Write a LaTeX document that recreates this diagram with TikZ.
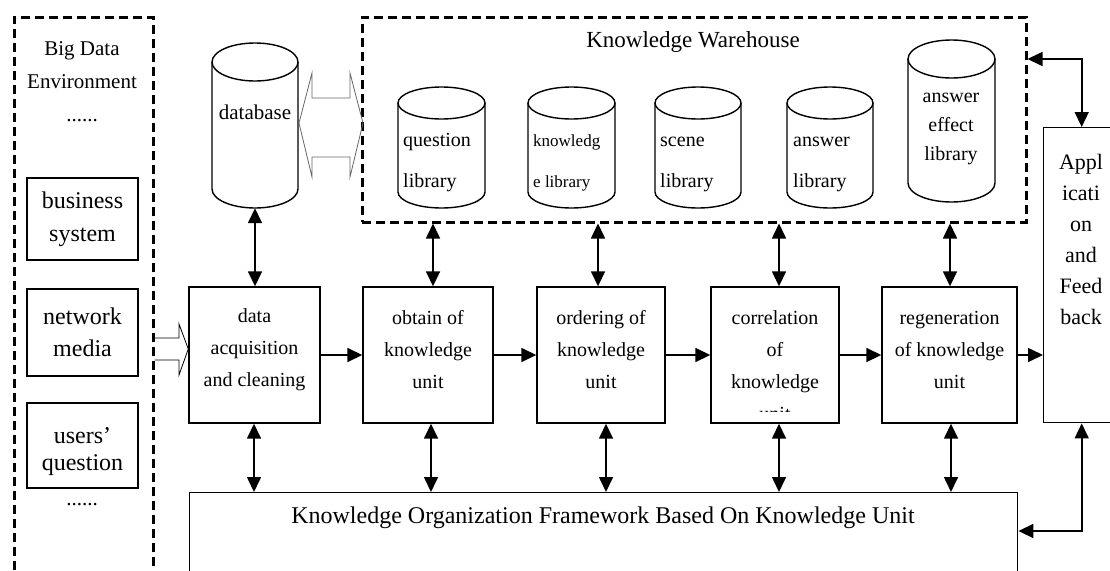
\documentclass[tikz,border=0pt]{standalone}
\usepackage{fontspec}
\setmainfont{Liberation Serif}
\usetikzlibrary{arrows.meta}
\newcommand{\fs}[2]{\fontsize{#1}{#2}\selectfont}
\newcommand{\cylshape}[5]{% cx, rx, ytop, ybot, ry
  \draw[cyl] (#1,#3) ellipse[x radius=#2, y radius=#5];
  \draw[cyl] (#1-#2,#3) -- (#1-#2,#4) arc[start angle=180,end angle=0,x radius=#2,y radius=#5] -- (#1+#2,#3);}
\begin{document}
\begin{tikzpicture}[x=1pt,y=-1pt,
  box/.style={draw, line width=1.4pt, inner sep=0pt},
  dbox/.style={draw, line width=2.5pt, dash pattern=on 9pt off 5pt, inner sep=0pt},
  tip/.tip={Triangle[length=15pt,width=14pt]},
  arr/.style={line width=1.6pt, -tip},
  darr/.style={line width=1.6pt, tip-tip},
  cyl/.style={line width=1.4pt},
  txt/.style={inner sep=0pt, align=center},
  ltxt/.style={inner sep=0pt, anchor=west},
  hollow/.style={line width=0.8pt, line join=miter},
]
\useasboundingbox (0,0) rectangle (1110,570);
\clip (0,0) rectangle (1110,570);

% containers
\node[dbox, anchor=north west, minimum width=139, minimum height=620] (env) at (13,16) {};
\node[dbox, anchor=north west, minimum width=664, minimum height=205] (wh) at (361,16) {};

% left environment
\node[txt, anchor=north, font=\fs{21}{33}] (bde) at (82,41) {Big Data\\Environment\\......};
\node[box, minimum width=111, minimum height=82] (bs) at (82.5,219) {};
\node[txt, font=\fs{24}{33}] at (bs.center) {business\\system};
\node[box, minimum width=111, minimum height=87] (nm) at (82.5,332.5) {};
\node[txt, font=\fs{24}{32}] at (nm.center) {network\\media};
\node[box, minimum width=111, minimum height=85] (uq) at (82.5,445.5) {};
\node[txt, font=\fs{24}{27}] at (82.5,452) {users’\\question};
\node[txt, font=\fs{21}{25}] (dots2) at (82,505) {......};

% database
\cylshape{255}{43}{62}{189}{19}
\node[minimum width=86, minimum height=165, inner sep=0pt] (db) at (255,125.5) {};
\node[txt, font=\fs{21}{25}] at (255,112) {database};

% warehouse
\node[txt, font=\fs{23}{28}] (whtitle) at (693,42) {Knowledge Warehouse};
\cylshape{441.5}{43.5}{103}{192}{16}
\cylshape{571.5}{43.5}{103}{192}{16}
\cylshape{698}{43}{103}{192}{16}
\cylshape{830}{43}{103}{192}{16}
\cylshape{951.5}{43.5}{59}{183}{19}
\node[ltxt, font=\fs{20}{25}] (q1) at (403,142) {question};
\node[ltxt, font=\fs{20}{25}] (q2) at (403,183) {library};
\node[ltxt, font=\fs{17}{22}] (k1) at (533,142) {knowledg};
\node[ltxt, font=\fs{17}{22}] (k2) at (533,183) {e library};
\node[ltxt, font=\fs{20}{25}] (s1) at (660,142) {scene};
\node[ltxt, font=\fs{20}{25}] (s2) at (660,183) {library};
\node[ltxt, font=\fs{20}{25}] (a1) at (793,142) {answer};
\node[ltxt, font=\fs{20}{25}] (a2) at (793,183) {library};
\node[txt, font=\fs{20}{29}] (ae) at (951,129) {answer\\effect\\library};

% double hollow arrow database <-> warehouse
\draw[hollow, draw=black!60] (299,123) -- (312,73) -- (312,98) -- (350,98) -- (350,73) -- (363,123)
  -- (350,177) -- (350,157) -- (312,157) -- (312,177) -- cycle;

% process boxes
\node[box, minimum width=131, minimum height=136] (da) at (254.5,355) {};
\node[box, minimum width=130, minimum height=136] (ob) at (428,355) {};
\node[box, minimum width=128, minimum height=136] (od) at (601,355) {};
\node[box, minimum width=128, minimum height=136] (co) at (775,355) {};
\node[box, minimum width=135, minimum height=136] (re) at (949.5,355) {};
\node[txt, font=\fs{20}{32}] at (254.5,350) {data\\acquisition\\and cleaning};
\node[txt, font=\fs{20}{32}] at (428,350) {obtain of\\knowledge\\unit};
\node[txt, font=\fs{20}{32}] at (601,350) {ordering of\\knowledge\\unit};
\begin{scope}
  \clip (712,288) rectangle (838,411);
  \node[txt, font=\fs{20}{32}] at (775,366) {correlation\\of\\knowledge\\unit};
\end{scope}
\node[txt, font=\fs{20}{32}] at (949.5,350) {regeneration\\of knowledge\\unit};

% application
\node[box, anchor=north west, minimum width=76, minimum height=295] (app) at (1043,127) {};
\node[txt, font=\fs{22}{31}] at (1081,239) {Appl\\icati\\on\\and\\Feed\\back};

% framework
\node[box, anchor=north west, minimum width=828, minimum height=120] (kof) at (189,492) {};
\node[txt, font=\fs{24}{28}] at (603,518) {Knowledge Organization Framework Based On Knowledge Unit};

% hollow arrow env -> data acquisition
\draw[hollow] (env.east |- 0,338) -- (179,338) -- (179,324) -- (da.west |- 0,349) -- (179,375) -- (179,360) -- (env.east |- 0,360);

% horizontal flow
\draw[arr] (da.east) -- (ob.west);
\draw[arr] (ob.east) -- (od.west);
\draw[arr] (od.east) -- (co.west);
\draw[arr] (co.east) -- (re.west);
\draw[arr] (re.east) -- (re.east -| app.west);

% vertical links
\draw[darr] (db.south) -- (db.south |- da.north);
\draw[darr] ([xshift=5pt]ob.north |- wh.south) -- ([xshift=5pt]ob.north);
\draw[darr] ([xshift=-3pt]od.north |- wh.south) -- ([xshift=-3pt]od.north);
\draw[darr] ([xshift=4pt]co.north |- wh.south) -- ([xshift=4pt]co.north);
\draw[darr] ([xshift=0.5pt]re.north |- wh.south) -- ([xshift=0.5pt]re.north);

\draw[darr] ([xshift=-0.5pt]da.south) -- ([xshift=-0.5pt]da.south |- kof.north);
\draw[darr] ([xshift=3pt]ob.south) -- ([xshift=3pt]ob.south |- kof.north);
\draw[darr] ([xshift=5pt]od.south) -- ([xshift=5pt]od.south |- kof.north);
\draw[darr] ([xshift=4pt]co.south) -- ([xshift=4pt]co.south |- kof.north);
\draw[darr] ([xshift=1.5pt]re.south) -- ([xshift=1.5pt]re.south |- kof.north);

% application links
\draw[darr] (wh.east |- 0,59) -| (app.north);
\draw[darr] (app.south) |- (kof.east |- 0,531);
\end{tikzpicture}
\end{document}
